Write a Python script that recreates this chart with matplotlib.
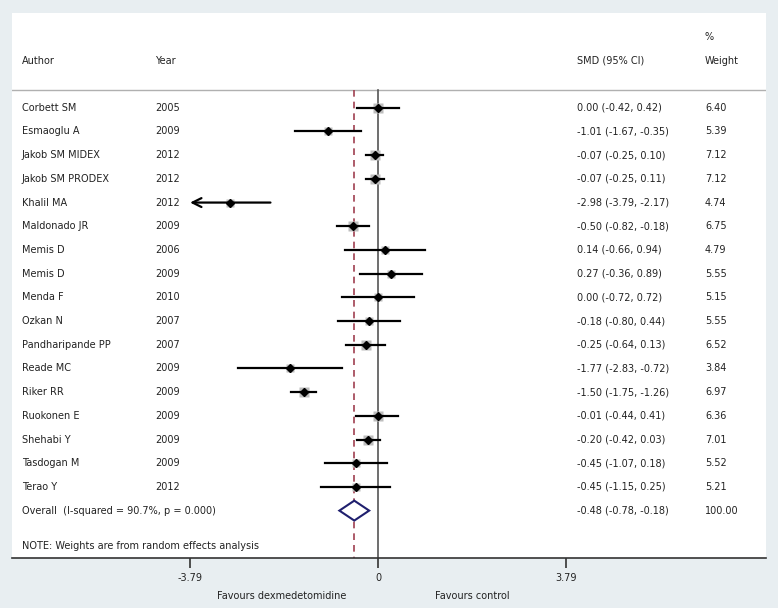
import matplotlib
matplotlib.use("Agg")
import matplotlib.pyplot as plt

authors = ["Corbett SM", "Esmaoglu A", "Jakob SM MIDEX", "Jakob SM PRODEX", "Khalil MA",
           "Maldonado JR", "Memis D", "Memis D", "Menda F", "Ozkan N", "Pandharipande PP",
           "Reade MC", "Riker RR", "Ruokonen E", "Shehabi Y", "Tasdogan M", "Terao Y"]
years = ["2005", "2009", "2012", "2012", "2012", "2009", "2006", "2009", "2010", "2007",
         "2007", "2009", "2009", "2009", "2009", "2009", "2012"]
smd = [0.00, -1.01, -0.07, -0.07, -2.98, -0.50, 0.14, 0.27, 0.00, -0.18, -0.25, -1.77,
       -1.50, -0.01, -0.20, -0.45, -0.45]
lo = [-0.42, -1.67, -0.25, -0.25, -3.79, -0.82, -0.66, -0.36, -0.72, -0.80, -0.64, -2.83,
      -1.75, -0.44, -0.42, -1.07, -1.15]
hi = [0.42, -0.35, 0.10, 0.11, -2.17, -0.18, 0.94, 0.89, 0.72, 0.44, 0.13, -0.72,
      -1.26, 0.41, 0.03, 0.18, 0.25]
weights = [6.40, 5.39, 7.12, 7.12, 4.74, 6.75, 4.79, 5.55, 5.15, 5.55, 6.52, 3.84,
           6.97, 6.36, 7.01, 5.52, 5.21]
overall = (-0.48, -0.78, -0.18)
overall_label = "Overall  (I-squared = 90.7%, p = 0.000)"
axis_limit = 3.79

bg = "#e8eef1"
fs = 7

fig = plt.figure(figsize=(7.78, 6.08), dpi=100, facecolor=bg)
ax = fig.add_axes([12 / 778, 50 / 608, 754 / 778, 545 / 608])
ax.set_facecolor("white")
ax.set_xlim(-7.38, 7.82)
ax.set_ylim(19.0, -4.0)

n = len(authors)
top = -0.76
ax.axhline(top, color="#b0b0b0", lw=1)
ax.plot([0, 0], [top, 19.0], color="#555555", lw=1.2, zorder=2)
ax.plot([overall[0]] * 2, [top, 19.0], color="#a04050", lw=1.2, ls=(0, (4, 3)), zorder=2)

for i in range(n):
    ax.plot(smd[i], i, marker="s", ms=3.7 * weights[i] ** 0.5 * 0.72, color="#bdbdbd",
            mec="none", zorder=3)
    if lo[i] <= -axis_limit:
        ax.annotate("", xy=(-axis_limit, i), xytext=(hi[i], i),
                    arrowprops=dict(arrowstyle="->", lw=1.6, color="black",
                                    mutation_scale=16, shrinkA=0, shrinkB=0), zorder=4)
    else:
        ax.plot([lo[i], hi[i]], [i, i], color="black", lw=1.6, zorder=4)
    ax.plot(smd[i], i, marker="D", ms=4, color="black", zorder=5)

    ax.text(-7.18, i, authors[i], fontsize=fs, va="center", color="#222222")
    ax.text(-4.50, i, years[i], fontsize=fs, va="center", color="#222222")
    ax.text(4.01, i, "%.2f (%.2f, %.2f)" % (smd[i], lo[i], hi[i]), fontsize=fs,
            va="center", color="#222222")
    ax.text(6.59, i, "%.2f" % weights[i], fontsize=fs, va="center", color="#222222")

# overall diamond
yo = n
est, olo, ohi = overall
ax.fill([olo, est, ohi, est, olo], [yo, yo - 0.42, yo, yo + 0.42, yo],
        facecolor="white", edgecolor="#1f1f6e", lw=1.5, zorder=6)
ax.text(-7.18, yo, overall_label, fontsize=fs, va="center", color="#222222")
ax.text(4.01, yo, "%.2f (%.2f, %.2f)" % overall, fontsize=fs, va="center", color="#222222")
ax.text(6.59, yo, "100.00", fontsize=fs, va="center", color="#222222")
ax.text(-7.18, n + 1.5, "NOTE: Weights are from random effects analysis", fontsize=fs,
        va="center", color="#222222")

# header
ax.text(-7.18, -1.98, "Author", fontsize=fs, va="center", color="#222222")
ax.text(-4.50, -1.98, "Year", fontsize=fs, va="center", color="#222222")
ax.text(4.01, -1.98, "SMD (95% CI)", fontsize=fs, va="center", color="#222222")
ax.text(6.59, -1.98, "Weight", fontsize=fs, va="center", color="#222222")
ax.text(6.59, -3.0, "%", fontsize=fs, va="center", color="#222222")

for s in ["top", "left", "right"]:
    ax.spines[s].set_visible(False)
ax.spines["bottom"].set_color("#333333")
ax.spines["bottom"].set_linewidth(1.2)
ax.set_yticks([])
ax.set_xticks([-axis_limit, 0, axis_limit])
ax.set_xticklabels(["-3.79", "0", "3.79"], fontsize=fs, color="#222222")
ax.tick_params(axis="x", direction="out", length=7, width=1.2, color="#333333", pad=4)

fig.text(282 / 778, 12 / 608, "Favours dexmedetomidine", fontsize=fs, ha="center",
         va="center", color="#222222")
fig.text(472 / 778, 12 / 608, "Favours control", fontsize=fs, ha="center",
         va="center", color="#222222")

fig.savefig("out.png", dpi=100, facecolor=bg)
